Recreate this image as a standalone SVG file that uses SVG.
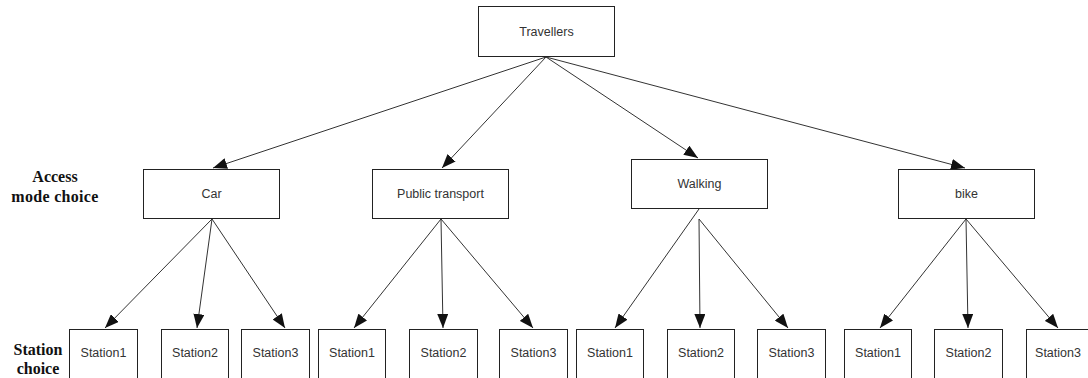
<svg xmlns="http://www.w3.org/2000/svg" width="1088" height="378" viewBox="0 0 1088 378">
  <style>
    .box { fill: #ffffff; stroke: #222222; stroke-width: 1; }
    .lbl { font-family: "Liberation Sans", Arial, sans-serif; font-size: 12.5px; fill: #333333; text-anchor: middle; }
    .side { font-family: "Liberation Serif", "Times New Roman", serif; font-size: 16px; font-weight: bold; fill: #111111; text-anchor: middle; }
    .edge { stroke: #333333; stroke-width: 1; fill: none; marker-end: url(#arrow); }
  </style>
  <defs>
    <marker id="arrow" markerUnits="userSpaceOnUse" markerWidth="14" markerHeight="11" viewBox="0 0 14 11" refX="14" refY="5.5" orient="auto">
      <path d="M0,0 L14,5.5 L0,11 Z" fill="#111111"/>
    </marker>
  </defs>
  <rect width="1088" height="378" fill="#ffffff"/>

  <!-- level captions -->
  <g id="caption-access">
    <text class="side" x="55" y="182">Access</text>
    <text class="side" x="55" y="202" letter-spacing="0.3">mode choice</text>
  </g>
  <g id="caption-station">
    <text class="side" x="38" y="355">Station</text>
    <text class="side" x="38" y="374">choice</text>
  </g>

  <!-- connectors -->
  <g id="connectors">
    <line class="edge" x1="546" y1="57" x2="213" y2="168"/>
    <line class="edge" x1="546" y1="57" x2="442" y2="168"/>
    <line class="edge" x1="546" y1="57" x2="698" y2="158"/>
    <line class="edge" x1="546" y1="57" x2="965" y2="168"/>

    <line class="edge" x1="212" y1="219" x2="105" y2="328"/>
    <line class="edge" x1="212" y1="219" x2="197" y2="328"/>
    <line class="edge" x1="212" y1="219" x2="285" y2="328"/>

    <line class="edge" x1="441" y1="219" x2="354" y2="328"/>
    <line class="edge" x1="441" y1="219" x2="443" y2="328"/>
    <line class="edge" x1="441" y1="219" x2="533" y2="328"/>

    <line class="edge" x1="699" y1="209" x2="615" y2="328"/>
    <line class="edge" x1="699" y1="219" x2="700" y2="328"/>
    <line class="edge" x1="699" y1="219" x2="788" y2="328"/>

    <line class="edge" x1="966" y1="219" x2="880" y2="328"/>
    <line class="edge" x1="966" y1="219" x2="968" y2="328"/>
    <line class="edge" x1="966" y1="219" x2="1058" y2="328"/>
  </g>

  <!-- root -->
  <g id="travellers">
    <rect class="box" x="478.5" y="6.5" width="136" height="50"/>
    <text class="lbl" x="546.5" y="36">Travellers</text>
  </g>

  <!-- access modes -->
  <g id="car">
    <rect class="box" x="143.5" y="169.5" width="136" height="49"/>
    <text class="lbl" x="211.5" y="198">Car</text>
  </g>
  <g id="public-transport">
    <rect class="box" x="372.5" y="169.5" width="136" height="49"/>
    <text class="lbl" x="440.5" y="198">Public transport</text>
  </g>
  <g id="walking">
    <rect class="box" x="631.5" y="159.5" width="136" height="49"/>
    <text class="lbl" x="699.5" y="188">Walking</text>
  </g>
  <g id="bike">
    <rect class="box" x="898.5" y="169.5" width="136" height="49"/>
    <text class="lbl" x="966.5" y="198">bike</text>
  </g>

  <!-- stations -->
  <g id="car-station1">
    <rect class="box" x="69.5" y="329.5" width="68" height="60"/>
    <text class="lbl" x="103.5" y="357">Station1</text>
  </g>
  <g id="car-station2">
    <rect class="box" x="161.5" y="329.5" width="67" height="60"/>
    <text class="lbl" x="195" y="357">Station2</text>
  </g>
  <g id="car-station3">
    <rect class="box" x="241.5" y="329.5" width="68" height="60"/>
    <text class="lbl" x="275.5" y="357">Station3</text>
  </g>
  <g id="pt-station1">
    <rect class="box" x="318.5" y="329.5" width="67" height="60"/>
    <text class="lbl" x="352" y="357">Station1</text>
  </g>
  <g id="pt-station2">
    <rect class="box" x="409.5" y="329.5" width="68" height="60"/>
    <text class="lbl" x="443.5" y="357">Station2</text>
  </g>
  <g id="pt-station3">
    <rect class="box" x="499.5" y="329.5" width="68" height="60"/>
    <text class="lbl" x="533.5" y="357">Station3</text>
  </g>
  <g id="walk-station1">
    <rect class="box" x="576.5" y="329.5" width="67" height="60"/>
    <text class="lbl" x="610" y="357">Station1</text>
  </g>
  <g id="walk-station2">
    <rect class="box" x="667.5" y="329.5" width="67" height="60"/>
    <text class="lbl" x="701" y="357">Station2</text>
  </g>
  <g id="walk-station3">
    <rect class="box" x="757.5" y="329.5" width="68" height="60"/>
    <text class="lbl" x="791.5" y="357">Station3</text>
  </g>
  <g id="bike-station1">
    <rect class="box" x="844.5" y="329.5" width="67" height="60"/>
    <text class="lbl" x="878" y="357">Station1</text>
  </g>
  <g id="bike-station2">
    <rect class="box" x="934.5" y="329.5" width="68" height="60"/>
    <text class="lbl" x="968.5" y="357">Station2</text>
  </g>
  <g id="bike-station3">
    <rect class="box" x="1026.5" y="329.5" width="68" height="60"/>
    <text class="lbl" x="1058" y="357">Station3</text>
  </g>
</svg>
